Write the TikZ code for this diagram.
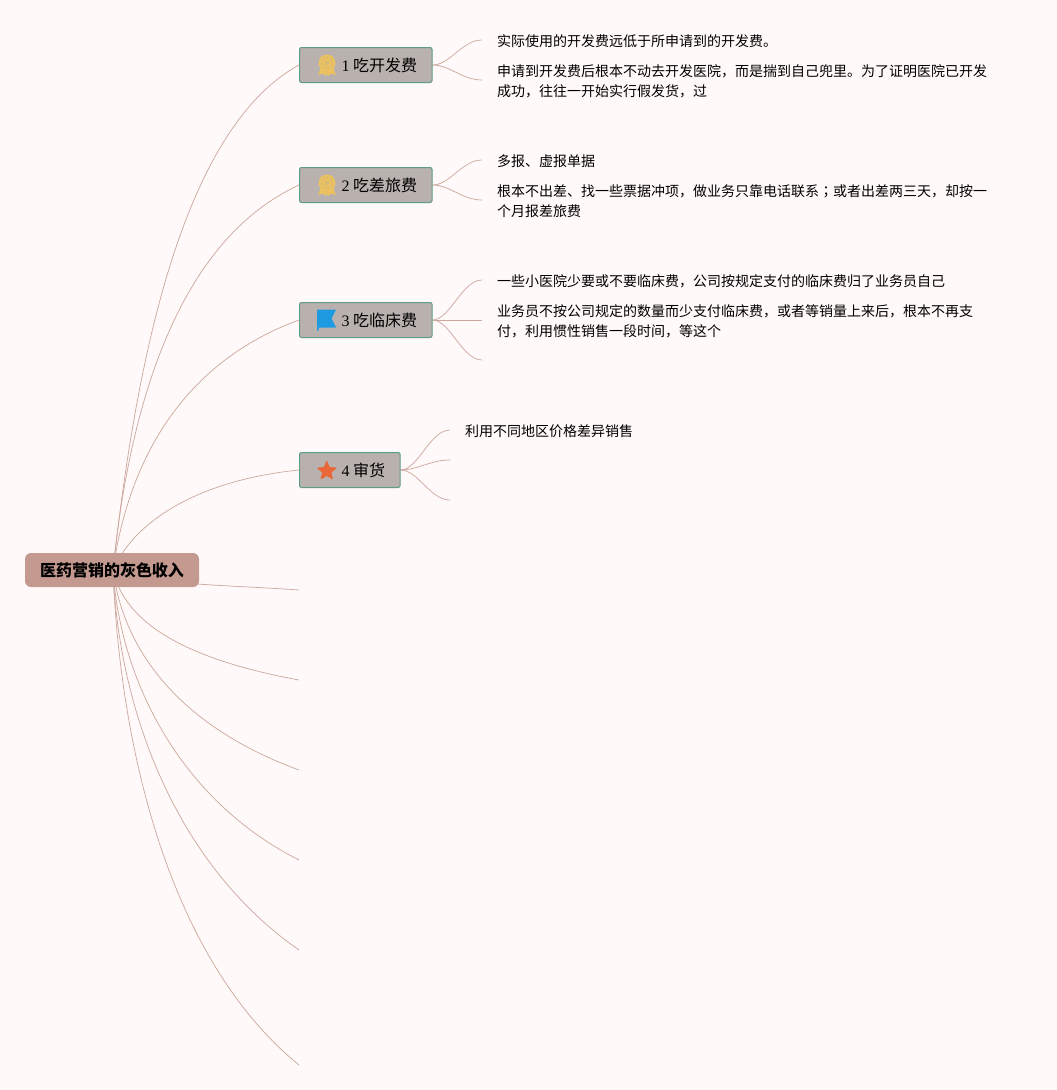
\documentclass[tikz,border=0pt]{standalone}
\usepackage{fontspec}
\setmainfont{Noto Sans CJK SC}
\newfontfamily\digitfont{Liberation Serif}
\newfontfamily\semifont{Noto Sans CJK JP}
\usetikzlibrary{shapes.geometric}
\definecolor{pagebg}{HTML}{FFF9F9}
\definecolor{rootfill}{HTML}{C49A90}
\definecolor{boxfill}{HTML}{B9B1AD}
\definecolor{boxline}{HTML}{5F9C85}
\definecolor{linkcol}{HTML}{CBA79C}
\definecolor{medal}{HTML}{EBC25F}
\definecolor{medalin}{HTML}{D9B878}
\definecolor{flagblue}{HTML}{1E9BE0}
\definecolor{staror}{HTML}{E8683A}
\pgfdeclarelayer{bg}
\pgfsetlayers{bg,main}
\tikzset{
  x=1pt,y=-1pt,
  rootbox/.style={draw=none,fill=rootfill,rounded corners=6pt,minimum height=34pt,minimum width=174pt,inner sep=0pt,font=\fontsize{16}{20}\selectfont\bfseries},
  topicbox/.style={draw=boxline,line width=1pt,fill=boxfill,rounded corners=2pt,minimum height=35pt,inner xsep=15pt,inner ysep=0pt,anchor=west,font=\fontsize{16}{20}\selectfont},
  leaf/.style={anchor=west,inner xsep=15pt,inner ysep=0pt,font=\fontsize{14}{20}\selectfont,align=left},
  link/.style={draw=linkcol,line width=0.7pt},
  starmark/.style={star,star points=5,star point ratio=2.2,fill=staror,draw=staror,line join=round,line width=1pt,minimum size=19pt,inner sep=0pt}
}
\newcommand{\medalicon}[2]{%
  \fill[medal] (#1-5.5,#2+1) -- (#1-9,#2+10) -- (#1-4.5,#2+8.5) -- (#1-1,#2+11) -- (#1,#2+8) -- (#1+1,#2+11) -- (#1+4.5,#2+8.5) -- (#1+9,#2+10) -- (#1+5.5,#2+1) -- cycle;
  \fill[medal] (#1,#2-2) circle[radius=8.5];
  \draw[medalin,line width=0.8pt] (#1,#2-2) circle[radius=5.5];
  \fill[medalin] (#1,#2-2) circle[radius=2.3];
}
\newcommand{\topictext}[2]{\hspace*{27pt}\raisebox{-1pt}{{\digitfont #1} #2}}
\begin{document}
\begin{tikzpicture}
\useasboundingbox (0,0) rectangle (1057,1090);
\node[rootbox] (root) at (112,570) {\raisebox{-1pt}{医药营销的灰色收入}};
\coordinate (hub) at (113,570);

\node[topicbox] (t1) at (299,65) {\topictext{1}{吃开发费}};
\node[topicbox] (t2) at (299,185) {\topictext{2}{吃差旅费}};
\node[topicbox] (t3) at (299,320) {\topictext{3}{吃临床费}};
\node[topicbox] (t4) at (299,470) {\topictext{4}{审货}};

\medalicon{327}{65}
\medalicon{327}{185}
\fill[flagblue] (317,309.5) -- (336,309.5) -- (331.5,318.5) -- (336,327.5) -- (318.5,327.5) -- (318.5,330.5) -- (317,330.5) -- cycle;
\node[starmark] (s4) at (326.8,471) {};

\node[leaf] (a1) at (482,41) {实际使用的开发费远低于所申请到的开发费。};
\node[leaf] (a2) at (482,81) {申请到开发费后根本不动去开发医院，而是揣到自己兜里。为了证明医院已开发\\成功，往往一开始实行假发货，过};
\node[leaf] (b1) at (482,161) {多报、虚报单据};
\node[leaf] (b2) at (482,201) {根本不出差、找一些票据冲项，做业务只靠电话联系{\semifont ；}或者出差两三天，却按一\\个月报差旅费};
\node[leaf] (c1) at (482,281) {一些小医院少要或不要临床费，公司按规定支付的临床费归了业务员自己};
\node[leaf] (c2) at (482,321) {业务员不按公司规定的数量而少支付临床费，或者等销量上来后，根本不再支\\付，利用惯性销售一段时间，等这个};
\coordinate (c3) at (482,360);
\node[leaf] (d1) at (450,431) {利用不同地区价格差异销售};
\coordinate (d2) at (450,460);
\coordinate (d3) at (450,500);

\coordinate (e1) at (299,590);
\coordinate (e2) at (299,680);
\coordinate (e3) at (299,770);
\coordinate (e4) at (299,860);
\coordinate (e5) at (299,950);
\coordinate (e6) at (299,1065);

\begin{pgfonlayer}{bg}
\fill[pagebg] (0,0) rectangle (1057,1090);
\draw[link] (hub) .. controls (135,370) and (180,130) .. (t1.west);
\draw[link] (hub) .. controls (130,400) and (180,240) .. (t2.west);
\draw[link] (hub) .. controls (130,450) and (190,360) .. (t3.west);
\draw[link] (hub) .. controls (135,520) and (200,480) .. (t4.west);
\draw[link] (hub) .. controls (150,585) and (230,585) .. (e1);
\draw[link] (hub) .. controls (125,625) and (190,660) .. (e2);
\draw[link] (hub) .. controls (125,660) and (190,730) .. (e3);
\draw[link] (hub) .. controls (120,680) and (180,800) .. (e4);
\draw[link] (hub) .. controls (118,700) and (170,860) .. (e5);
\draw[link] (hub) .. controls (120,750) and (170,960) .. (e6);
\draw[link] (t1.east) .. controls (450,65) and (462,40) .. ([yshift=1pt]a1.west);
\draw[link] (t1.east) .. controls (450,65) and (462,80) .. ([yshift=1pt]a2.west);
\draw[link] (t2.east) .. controls (450,185) and (462,160) .. ([yshift=1pt]b1.west);
\draw[link] (t2.east) .. controls (450,185) and (462,200) .. ([yshift=1pt]b2.west);
\draw[link] (t3.east) .. controls (450,320) and (462,280) .. ([yshift=1pt]c1.west);
\draw[link] (t3.east) -- ([yshift=1pt]c2.west);
\draw[link] (t3.east) .. controls (450,320) and (462,360) .. (c3);
\draw[link] (t4.east) .. controls (418,470) and (430,430) .. ([yshift=1pt]d1.west);
\draw[link] (t4.east) .. controls (418,470) and (430,460) .. (d2);
\draw[link] (t4.east) .. controls (418,470) and (430,500) .. (d3);
\end{pgfonlayer}
\end{tikzpicture}
\end{document}
